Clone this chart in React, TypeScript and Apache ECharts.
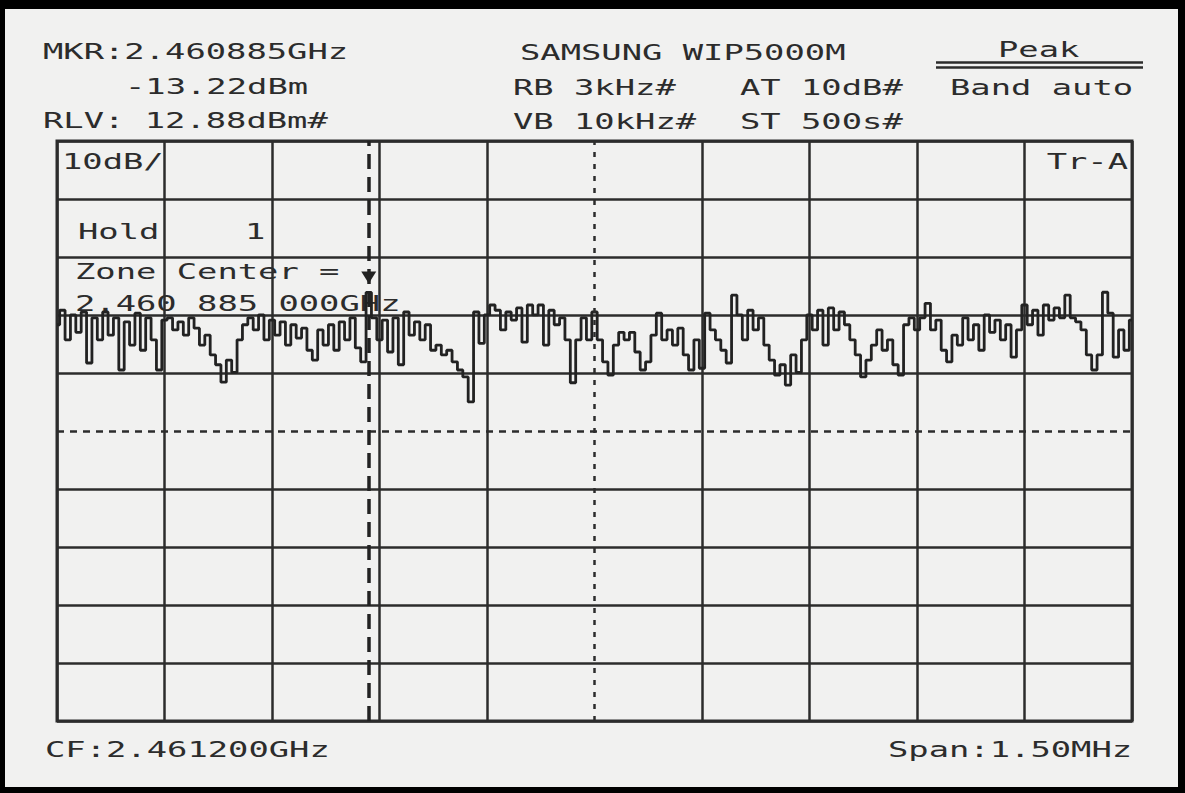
import React, { useEffect, useRef } from "react";
import * as echarts from "echarts";

// ---- instrument settings ----
const CENTER_FREQ = "CF:2.461200GHz";
const SPAN_TEXT = "Span:1.50MHz";
const SPAN_KHZ = 1500;
const RLV_DBM = 12.88;
const DB_PER_DIV = 10;
const DIVS = 10;
const MARKER_KHZ = -315; // 2.460885 GHz relative to CF 2.461200 GHz

// ---- header texts ----
const LEFT_LINES = ["MKR:2.460885GHz", "-13.22dBm", "RLV: 12.88dBm#"];
const MID_LINES = ["SAMSUNG WIP5000M", "RB 3kHz#", "VB 10kHz#"];
const MID2_LINES = ["AT 10dB#", "ST 500s#"];
const RIGHT_LINES = ["Peak", "Band auto"];
const IN_GRID = ["10dB/", "Tr-A", "Hold", "1", "Zone Center =", "2.460 885 000GHz"];

// ---- trace (dBm), 201 sweep points across the span ----
const TRACE_DBM = [
  -18.8, -16.3, -21.4, -17.1, -20.1, -16.6, -25.4, -17.6, -21.4, -16.6,
  -20.6, -17.6, -26.6, -18.3, -22.3, -16.8, -23.2, -17.6, -21.4, -26.6,
  -18.0, -17.6, -19.7, -18.3, -20.6, -17.6, -19.4, -22.3, -20.6, -24.0,
  -25.7, -28.7, -24.9, -27.0, -21.4, -18.8, -17.6, -19.7, -17.1, -21.4,
  -18.0, -20.6, -18.3, -22.3, -18.8, -21.1, -19.4, -23.2, -24.9, -19.7,
  -22.3, -18.8, -23.2, -18.3, -21.4, -17.6, -22.8, -25.2, -13.22, -17.6,
  -21.4, -18.0, -23.5, -17.6, -25.7, -16.6, -20.6, -18.3, -21.4, -18.8,
  -23.2, -22.3, -24.0, -23.2, -25.2, -26.6, -27.8, -32.1, -16.6, -22.0,
  -17.1, -15.4, -16.3, -19.7, -16.6, -18.0, -15.9, -21.8, -15.4, -17.1,
  -15.4, -22.3, -16.3, -18.8, -17.6, -21.4, -28.8, -21.4, -17.6, -21.4,
  -16.6, -21.4, -25.2, -27.5, -22.3, -20.1, -21.4, -20.1, -23.5, -26.6,
  -25.2, -20.6, -16.8, -21.4, -19.7, -22.3, -19.4, -24.0, -26.6, -21.4,
  -26.3, -16.8, -19.7, -21.4, -23.2, -25.4, -13.7, -17.1, -21.4, -16.3,
  -19.7, -17.6, -22.3, -24.9, -27.5, -25.7, -29.2, -24.0, -27.0, -21.4,
  -17.1, -19.7, -16.3, -22.3, -15.9, -19.7, -16.6, -18.8, -21.4, -24.0,
  -27.8, -24.9, -22.3, -19.7, -23.2, -21.4, -25.7, -27.5, -18.8, -17.6,
  -19.7, -17.6, -15.1, -19.7, -18.0, -23.2, -25.2, -20.6, -22.3, -17.6,
  -21.4, -18.8, -23.2, -17.1, -20.1, -18.0, -21.4, -18.8, -24.4, -19.7,
  -15.4, -18.8, -16.3, -20.6, -15.4, -18.0, -15.9, -17.6, -13.7, -17.6,
  -18.3, -19.7, -24.0, -26.6, -24.0, -13.2, -16.8, -24.4, -19.7, -23.2,
  -18.0,
];

const INK = "#2c2c2c";
const PAPER = "#f1f1f0";
const FONT = '"DejaVu Sans Mono", monospace';
const FS = 21;
const SX = 1.61;

function txt(text: string, x: number, y: number, align: string = "left") {
  return {
    type: "text",
    x,
    y: y + 2,
    scaleX: SX,
    silent: true,
    style: {
      text,
      x: 0,
      y: 0,
      fill: INK,
      fontFamily: FONT,
      fontSize: FS,
      textAlign: align,
      textVerticalAlign: "middle",
    },
  };
}

export default function App() {
  const ref = useRef<HTMLDivElement>(null);

  useEffect(() => {
    if (!ref.current) return;
    const chart = echarts.init(ref.current, undefined, { renderer: "svg" });

    const half = SPAN_KHZ / 2;
    const step = SPAN_KHZ / (TRACE_DBM.length - 1);
    const data = TRACE_DBM.map((v, i) => [-half + i * step, v - RLV_DBM]);
    const markerIdx = Math.round((MARKER_KHZ + half) / step);
    const xInterval = SPAN_KHZ / DIVS;

    const gridColors = (n: number) =>
      Array.from({ length: n + 1 }, (_, i) => (i === n / 2 ? "rgba(0,0,0,0)" : INK));

    const option: any = {
      animation: false,
      backgroundColor: PAPER,
      grid: {
        left: 57,
        top: 141,
        width: 1075,
        height: 580,
        show: true,
        borderColor: INK,
        borderWidth: 3,
        backgroundColor: "transparent",
      },
      xAxis: {
        type: "value",
        min: -half,
        max: half,
        interval: xInterval,
        axisLine: { show: false },
        axisTick: { show: false },
        axisLabel: { show: false },
        splitLine: { show: true, lineStyle: { color: gridColors(DIVS), width: 2.5 } },
      },
      yAxis: {
        type: "value",
        min: -DB_PER_DIV * DIVS,
        max: 0,
        interval: DB_PER_DIV,
        axisLine: { show: false },
        axisTick: { show: false },
        axisLabel: { show: false },
        splitLine: { show: true, lineStyle: { color: gridColors(DIVS), width: 2.5 } },
      },
      series: [
        {
          type: "line",
          data,
          step: "middle",
          symbol: "none",
          silent: true,
          z: 3,
          lineStyle: { color: "#222", width: 2.8 },
          markLine: {
            silent: true,
            symbol: ["none", "none"],
            label: { show: false },
            emphasis: { disabled: true },
            data: [
              { xAxis: 0, lineStyle: { type: [5, 7], width: 2.5, color: INK } },
              { yAxis: -(DB_PER_DIV * DIVS) / 2, lineStyle: { type: [7, 6], width: 2.5, color: INK } },
              { xAxis: MARKER_KHZ, lineStyle: { type: [15, 8], width: 3.5, color: "#222" } },
            ],
          },
          markPoint: {
            silent: true,
            label: { show: false },
            data: [
              {
                coord: [MARKER_KHZ, TRACE_DBM[markerIdx] - RLV_DBM],
                symbol: "triangle",
                symbolRotate: 180,
                symbolSize: [15, 12],
                symbolOffset: [0, -15],
                itemStyle: { color: "#222" },
              },
            ],
          },
        },
      ],
      graphic: [
        // scanned page frame
        { type: "rect", shape: { x: 0, y: 0, width: 1185, height: 9 }, style: { fill: "#000" }, silent: true },
        { type: "rect", shape: { x: 0, y: 0, width: 5, height: 793 }, style: { fill: "#000" }, silent: true },
        { type: "rect", shape: { x: 1178, y: 0, width: 7, height: 793 }, style: { fill: "#000" }, silent: true },
        { type: "rect", shape: { x: 0, y: 787, width: 1185, height: 6 }, style: { fill: "#000" }, silent: true },
        // header
        txt(LEFT_LINES[0], 43, 50),
        txt(LEFT_LINES[1], 125, 85),
        txt(LEFT_LINES[2], 43, 119),
        txt(MID_LINES[0], 520, 51),
        txt(MID_LINES[1], 513, 86),
        txt(MID_LINES[2], 513, 120),
        txt(MID2_LINES[0], 740, 86),
        txt(MID2_LINES[1], 740, 120),
        txt(RIGHT_LINES[0], 998, 48),
        txt(RIGHT_LINES[1], 950, 86),
        { type: "line", shape: { x1: 936, y1: 62.5, x2: 1143, y2: 62.5 }, style: { stroke: INK, lineWidth: 2.5 }, silent: true },
        { type: "line", shape: { x1: 936, y1: 67.5, x2: 1143, y2: 67.5 }, style: { stroke: INK, lineWidth: 2.5 }, silent: true },
        // inside grid
        txt(IN_GRID[0], 62, 160),
        txt(IN_GRID[1], 1128, 160, "right"),
        txt(IN_GRID[2], 78, 230),
        txt(IN_GRID[3], 245, 230),
        txt(IN_GRID[4], 75, 270),
        txt(IN_GRID[5], 75, 302),
        // footer
        txt(CENTER_FREQ, 45, 748),
        txt(SPAN_TEXT, 888, 748),
      ],
    };

    chart.setOption(option);
    return () => chart.dispose();
  }, []);

  return (
    <div
      ref={ref}
      style={{ position: "absolute", left: 0, top: 0, width: 1185, height: 793 }}
    />
  );
}
